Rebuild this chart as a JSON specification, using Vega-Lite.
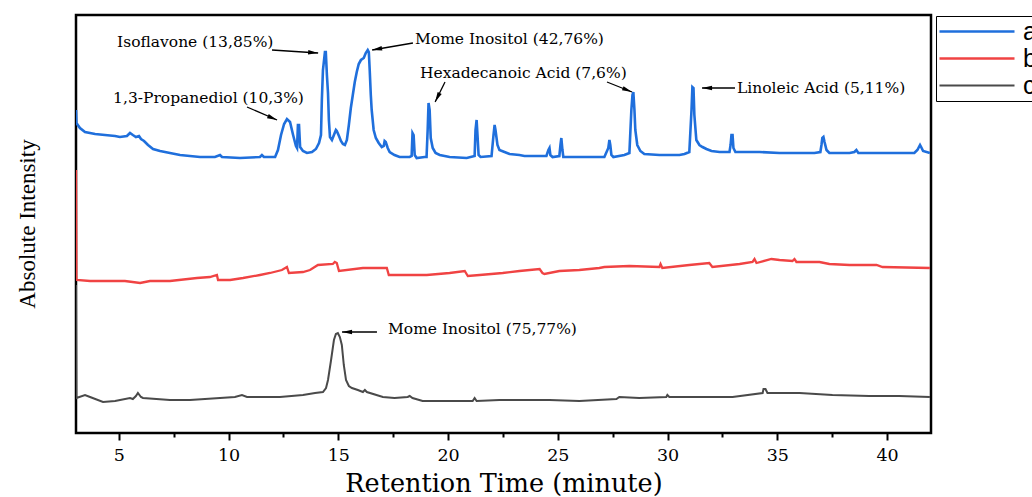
{
  "$schema": "https://vega.github.io/schema/vega-lite/v6.json",
  "width": 855,
  "height": 418,
  "autosize": {"type": "none"},
  "padding": {"left": 76, "top": 15, "right": 101, "bottom": 64},
  "background": "white",
  "title": {"text": "Absolute Intensity", "orient": "left", "anchor": "middle", "font": "Liberation Serif", "fontSize": 23, "fontWeight": "normal", "color": "black", "offset": 36},
  "config": {
    "view": {"stroke": "black", "strokeWidth": 2.5},
    "axis": {"grid": false}
  },
  "datasets": {
    "traces": [
      {"s":"a","t":3.05,"v":323},{"s":"a","t":3.07,"v":310},{"s":"a","t":3.23,"v":305},{"s":"a","t":3.46,"v":301},{"s":"a","t":3.92,"v":299},{"s":"a","t":4.37,"v":298},{"s":"a","t":4.83,"v":297},{"s":"a","t":5.05,"v":296},{"s":"a","t":5.37,"v":297},{"s":"a","t":5.51,"v":300},{"s":"a","t":5.64,"v":298},{"s":"a","t":5.78,"v":296},{"s":"a","t":5.92,"v":297},{"s":"a","t":6.01,"v":294},{"s":"a","t":6.15,"v":292},{"s":"a","t":6.33,"v":288},{"s":"a","t":6.56,"v":284},{"s":"a","t":6.88,"v":282},{"s":"a","t":7.33,"v":280},{"s":"a","t":7.79,"v":278},{"s":"a","t":8.24,"v":277},{"s":"a","t":8.70,"v":276},{"s":"a","t":9.38,"v":276},{"s":"a","t":9.61,"v":278},{"s":"a","t":9.70,"v":276},{"s":"a","t":10.52,"v":275},{"s":"a","t":11.43,"v":276},{"s":"a","t":11.52,"v":278},{"s":"a","t":11.61,"v":276},{"s":"a","t":12.12,"v":276},{"s":"a","t":12.25,"v":283},{"s":"a","t":12.39,"v":298},{"s":"a","t":12.53,"v":309},{"s":"a","t":12.66,"v":314},{"s":"a","t":12.80,"v":311},{"s":"a","t":12.94,"v":298},{"s":"a","t":13.07,"v":287},{"s":"a","t":13.12,"v":285},{"s":"a","t":13.16,"v":308},{"s":"a","t":13.21,"v":308},{"s":"a","t":13.26,"v":286},{"s":"a","t":13.39,"v":282},{"s":"a","t":13.57,"v":280},{"s":"a","t":13.80,"v":281},{"s":"a","t":13.98,"v":284},{"s":"a","t":14.12,"v":290},{"s":"a","t":14.21,"v":298},{"s":"a","t":14.25,"v":333},{"s":"a","t":14.30,"v":363},{"s":"a","t":14.39,"v":381},{"s":"a","t":14.43,"v":381},{"s":"a","t":14.48,"v":358},{"s":"a","t":14.53,"v":340},{"s":"a","t":14.57,"v":313},{"s":"a","t":14.62,"v":296},{"s":"a","t":14.71,"v":293},{"s":"a","t":14.80,"v":298},{"s":"a","t":14.89,"v":303},{"s":"a","t":14.93,"v":302},{"s":"a","t":15.03,"v":297},{"s":"a","t":15.12,"v":292},{"s":"a","t":15.21,"v":289},{"s":"a","t":15.30,"v":288},{"s":"a","t":15.39,"v":293},{"s":"a","t":15.48,"v":308},{"s":"a","t":15.57,"v":325},{"s":"a","t":15.66,"v":338},{"s":"a","t":15.75,"v":351},{"s":"a","t":15.84,"v":361},{"s":"a","t":15.93,"v":369},{"s":"a","t":16.03,"v":373},{"s":"a","t":16.16,"v":375},{"s":"a","t":16.25,"v":380},{"s":"a","t":16.34,"v":383},{"s":"a","t":16.39,"v":381},{"s":"a","t":16.43,"v":363},{"s":"a","t":16.48,"v":338},{"s":"a","t":16.52,"v":323},{"s":"a","t":16.61,"v":303},{"s":"a","t":16.71,"v":295},{"s":"a","t":16.84,"v":290},{"s":"a","t":16.98,"v":286},{"s":"a","t":17.07,"v":287},{"s":"a","t":17.11,"v":292},{"s":"a","t":17.16,"v":291},{"s":"a","t":17.25,"v":285},{"s":"a","t":17.34,"v":281},{"s":"a","t":17.56,"v":278},{"s":"a","t":17.79,"v":276},{"s":"a","t":18.25,"v":276},{"s":"a","t":18.34,"v":277},{"s":"a","t":18.38,"v":300},{"s":"a","t":18.43,"v":298},{"s":"a","t":18.48,"v":278},{"s":"a","t":18.57,"v":275},{"s":"a","t":18.93,"v":276},{"s":"a","t":19.02,"v":276},{"s":"a","t":19.07,"v":303},{"s":"a","t":19.11,"v":330},{"s":"a","t":19.16,"v":323},{"s":"a","t":19.21,"v":295},{"s":"a","t":19.30,"v":285},{"s":"a","t":19.43,"v":280},{"s":"a","t":19.62,"v":278},{"s":"a","t":20.07,"v":276},{"s":"a","t":20.85,"v":275},{"s":"a","t":21.21,"v":277},{"s":"a","t":21.25,"v":303},{"s":"a","t":21.30,"v":313},{"s":"a","t":21.34,"v":298},{"s":"a","t":21.39,"v":278},{"s":"a","t":21.48,"v":276},{"s":"a","t":21.98,"v":277},{"s":"a","t":22.07,"v":298},{"s":"a","t":22.12,"v":308},{"s":"a","t":22.16,"v":303},{"s":"a","t":22.25,"v":288},{"s":"a","t":22.34,"v":283},{"s":"a","t":22.57,"v":281},{"s":"a","t":22.80,"v":279},{"s":"a","t":23.25,"v":278},{"s":"a","t":23.48,"v":277},{"s":"a","t":23.94,"v":277},{"s":"a","t":24.48,"v":277},{"s":"a","t":24.57,"v":283},{"s":"a","t":24.62,"v":285},{"s":"a","t":24.66,"v":278},{"s":"a","t":24.76,"v":276},{"s":"a","t":25.07,"v":277},{"s":"a","t":25.12,"v":288},{"s":"a","t":25.16,"v":295},{"s":"a","t":25.21,"v":283},{"s":"a","t":25.25,"v":276},{"s":"a","t":25.75,"v":276},{"s":"a","t":26.44,"v":276},{"s":"a","t":27.12,"v":276},{"s":"a","t":27.30,"v":285},{"s":"a","t":27.35,"v":293},{"s":"a","t":27.39,"v":288},{"s":"a","t":27.44,"v":278},{"s":"a","t":27.53,"v":276},{"s":"a","t":28.03,"v":278},{"s":"a","t":28.26,"v":280},{"s":"a","t":28.35,"v":323},{"s":"a","t":28.40,"v":338},{"s":"a","t":28.44,"v":341},{"s":"a","t":28.49,"v":323},{"s":"a","t":28.53,"v":303},{"s":"a","t":28.62,"v":288},{"s":"a","t":28.76,"v":282},{"s":"a","t":28.94,"v":279},{"s":"a","t":29.63,"v":278},{"s":"a","t":30.54,"v":278},{"s":"a","t":30.77,"v":279},{"s":"a","t":30.99,"v":281},{"s":"a","t":31.09,"v":323},{"s":"a","t":31.13,"v":346},{"s":"a","t":31.18,"v":345},{"s":"a","t":31.22,"v":318},{"s":"a","t":31.31,"v":293},{"s":"a","t":31.45,"v":288},{"s":"a","t":31.59,"v":286},{"s":"a","t":31.77,"v":284},{"s":"a","t":32.00,"v":282},{"s":"a","t":32.37,"v":281},{"s":"a","t":32.82,"v":281},{"s":"a","t":32.87,"v":288},{"s":"a","t":32.91,"v":298},{"s":"a","t":32.96,"v":298},{"s":"a","t":33.00,"v":285},{"s":"a","t":33.09,"v":281},{"s":"a","t":34.19,"v":281},{"s":"a","t":35.10,"v":280},{"s":"a","t":36.01,"v":280},{"s":"a","t":36.69,"v":280},{"s":"a","t":36.96,"v":281},{"s":"a","t":37.01,"v":288},{"s":"a","t":37.05,"v":295},{"s":"a","t":37.10,"v":296},{"s":"a","t":37.15,"v":291},{"s":"a","t":37.24,"v":283},{"s":"a","t":37.37,"v":280},{"s":"a","t":38.29,"v":280},{"s":"a","t":38.51,"v":281},{"s":"a","t":38.60,"v":283},{"s":"a","t":38.69,"v":280},{"s":"a","t":39.64,"v":280},{"s":"a","t":40.55,"v":280},{"s":"a","t":41.24,"v":280},{"s":"a","t":41.38,"v":283},{"s":"a","t":41.45,"v":286},{"s":"a","t":41.50,"v":288},{"s":"a","t":41.55,"v":286},{"s":"a","t":41.64,"v":282},{"s":"a","t":41.95,"v":280},
      {"s":"b","t":3.05,"v":263},{"s":"b","t":3.07,"v":153},{"s":"b","t":3.69,"v":152},{"s":"b","t":5.28,"v":152},{"s":"b","t":5.97,"v":150},{"s":"b","t":6.42,"v":152},{"s":"b","t":7.33,"v":152},{"s":"b","t":8.56,"v":155},{"s":"b","t":9.15,"v":156},{"s":"b","t":9.47,"v":158},{"s":"b","t":9.52,"v":153},{"s":"b","t":10.07,"v":153},{"s":"b","t":10.66,"v":155},{"s":"b","t":11.43,"v":158},{"s":"b","t":11.89,"v":160},{"s":"b","t":12.43,"v":163},{"s":"b","t":12.66,"v":166},{"s":"b","t":12.75,"v":160},{"s":"b","t":13.39,"v":161},{"s":"b","t":13.71,"v":163},{"s":"b","t":14.07,"v":168},{"s":"b","t":14.75,"v":169},{"s":"b","t":14.84,"v":171},{"s":"b","t":14.93,"v":170},{"s":"b","t":15.03,"v":162},{"s":"b","t":16.12,"v":165},{"s":"b","t":17.21,"v":165},{"s":"b","t":17.30,"v":158},{"s":"b","t":19.03,"v":158},{"s":"b","t":20.07,"v":160},{"s":"b","t":20.76,"v":162},{"s":"b","t":20.90,"v":157},{"s":"b","t":21.44,"v":158},{"s":"b","t":22.49,"v":160},{"s":"b","t":23.25,"v":162},{"s":"b","t":24.17,"v":164},{"s":"b","t":24.30,"v":160},{"s":"b","t":24.39,"v":159},{"s":"b","t":25.07,"v":162},{"s":"b","t":25.98,"v":163},{"s":"b","t":26.89,"v":165},{"s":"b","t":27.12,"v":166},{"s":"b","t":28.26,"v":167},{"s":"b","t":29.63,"v":166},{"s":"b","t":29.68,"v":169},{"s":"b","t":29.76,"v":165},{"s":"b","t":30.99,"v":168},{"s":"b","t":31.90,"v":170},{"s":"b","t":32.04,"v":166},{"s":"b","t":33.28,"v":169},{"s":"b","t":33.87,"v":171},{"s":"b","t":33.96,"v":174},{"s":"b","t":34.05,"v":170},{"s":"b","t":34.73,"v":174},{"s":"b","t":35.10,"v":173},{"s":"b","t":35.69,"v":172},{"s":"b","t":35.78,"v":174},{"s":"b","t":35.87,"v":171},{"s":"b","t":36.92,"v":171},{"s":"b","t":37.37,"v":169},{"s":"b","t":38.29,"v":168},{"s":"b","t":39.52,"v":168},{"s":"b","t":39.79,"v":166},{"s":"b","t":41.95,"v":165},
      {"s":"c","t":3.05,"v":148},{"s":"c","t":3.07,"v":35},{"s":"c","t":3.46,"v":38},{"s":"c","t":3.69,"v":36},{"s":"c","t":4.28,"v":31},{"s":"c","t":4.83,"v":32},{"s":"c","t":5.51,"v":35},{"s":"c","t":5.64,"v":34},{"s":"c","t":5.78,"v":37},{"s":"c","t":5.87,"v":40},{"s":"c","t":6.01,"v":36},{"s":"c","t":6.10,"v":35},{"s":"c","t":7.33,"v":33},{"s":"c","t":8.24,"v":33},{"s":"c","t":9.61,"v":35},{"s":"c","t":10.29,"v":36},{"s":"c","t":10.61,"v":38},{"s":"c","t":10.84,"v":36},{"s":"c","t":12.34,"v":36},{"s":"c","t":13.39,"v":38},{"s":"c","t":13.94,"v":40},{"s":"c","t":14.30,"v":41},{"s":"c","t":14.44,"v":45},{"s":"c","t":14.53,"v":53},{"s":"c","t":14.67,"v":73},{"s":"c","t":14.80,"v":93},{"s":"c","t":14.89,"v":99},{"s":"c","t":14.98,"v":100},{"s":"c","t":15.07,"v":96},{"s":"c","t":15.16,"v":88},{"s":"c","t":15.25,"v":68},{"s":"c","t":15.35,"v":53},{"s":"c","t":15.48,"v":47},{"s":"c","t":15.62,"v":45},{"s":"c","t":15.89,"v":43},{"s":"c","t":16.12,"v":41},{"s":"c","t":16.21,"v":43},{"s":"c","t":16.30,"v":41},{"s":"c","t":17.03,"v":36},{"s":"c","t":17.56,"v":35},{"s":"c","t":18.16,"v":36},{"s":"c","t":18.25,"v":37},{"s":"c","t":18.38,"v":35},{"s":"c","t":18.84,"v":32},{"s":"c","t":20.07,"v":32},{"s":"c","t":21.12,"v":32},{"s":"c","t":21.21,"v":35},{"s":"c","t":21.30,"v":32},{"s":"c","t":22.34,"v":33},{"s":"c","t":24.62,"v":33},{"s":"c","t":25.98,"v":32},{"s":"c","t":27.67,"v":34},{"s":"c","t":27.80,"v":36},{"s":"c","t":28.71,"v":35},{"s":"c","t":29.94,"v":36},{"s":"c","t":29.99,"v":38},{"s":"c","t":30.08,"v":36},{"s":"c","t":31.45,"v":36},{"s":"c","t":32.96,"v":36},{"s":"c","t":34.33,"v":40},{"s":"c","t":34.37,"v":44},{"s":"c","t":34.46,"v":44},{"s":"c","t":34.55,"v":40},{"s":"c","t":36.01,"v":40},{"s":"c","t":37.51,"v":38},{"s":"c","t":39.19,"v":37},{"s":"c","t":40.55,"v":37},{"s":"c","t":41.95,"v":36}
    ],
    "arrows": [
      {"t":11.98,"v":383,"t2":14.08,"v2":380,"angle":94},
      {"t":10.84,"v":326,"t2":12.21,"v2":313,"angle":113},
      {"t":18.40,"v":390,"t2":16.54,"v2":383,"angle":260},
      {"t":19.86,"v":351,"t2":19.41,"v2":331,"angle":207},
      {"t":27.24,"v":351,"t2":28.38,"v2":341,"angle":112},
      {"t":33.07,"v":345,"t2":31.57,"v2":345,"angle":270},
      {"t":16.76,"v":101,"t2":15.17,"v2":101,"angle":270}
    ],
    "labels": [
      {"t":4.92,"v":391,"label":"Isoflavone (13,85%)"},
      {"t":4.74,"v":335,"label":"1,3-Propanediol (10,3%)"},
      {"t":18.49,"v":394,"label":"Mome Inositol (42,76%)"},
      {"t":18.72,"v":360,"label":"Hexadecanoic Acid (7,6%)"},
      {"t":33.16,"v":345,"label":"Linoleic Acid (5,11%)"},
      {"t":17.26,"v":104,"label":"Mome Inositol (75,77%)"}
    ]
  },
  "resolve": {"axis": {"x": "independent"}},
  "layer": [
    {
      "data": {"name": "traces"},
      "mark": {"type": "line", "clip": true},
      "encoding": {
        "x": {"field": "t", "type": "quantitative", "scale": {"domain": [3.05, 42], "nice": false, "zero": false},
          "axis": {"orient": "bottom", "values": [5,10,15,20,25,30,35,40], "format": "d", "domain": false, "ticks": true, "tickSize": 7, "tickWidth": 2, "tickColor": "black",
            "labelFont": "DejaVu Serif", "labelFontSize": 17.5, "labelColor": "black", "labelPadding": 6,
            "title": "Retention Time (minute)", "titleFont": "DejaVu Serif", "titleFontSize": 25.5, "titleFontWeight": "normal", "titleColor": "black", "titlePadding": 8}},
        "y": {"field": "v", "type": "quantitative", "scale": {"domain": [0, 418], "nice": false, "zero": false}, "axis": null},
        "color": {"field": "s", "type": "nominal", "scale": {"domain": ["a","b","c"], "range": ["#1f6fdc","#f04343","#4a4a4a"]},
          "legend": {"title": null, "orient": "none", "legendX": 860, "legendY": 1, "strokeColor": "black", "padding": 2, "symbolType": "stroke", "symbolSize": 5625, "symbolStrokeWidth": 2, "clipHeight": 27, "rowPadding": 0, "labelFont": "Liberation Sans", "labelFontSize": 25, "labelColor": "black", "labelOffset": 7}},
        "strokeWidth": {"field": "s", "type": "nominal", "scale": {"domain": ["a","b","c"], "range": [2.6, 2, 2]}, "legend": null}
      }
    },
    {
      "data": {"name": "arrows"},
      "mark": {"type": "rule", "color": "black", "strokeWidth": 1.3},
      "encoding": {
        "x": {"field": "t", "type": "quantitative",
          "axis": {"orient": "bottom", "values": [7.5,12.5,17.5,22.5,27.5,32.5,37.5], "labels": false, "domain": false, "ticks": true, "tickSize": 4, "tickWidth": 2, "tickColor": "black", "title": null}},
        "y": {"field": "v", "type": "quantitative", "axis": null},
        "x2": {"field": "t2"},
        "y2": {"field": "v2"}
      }
    },
    {
      "data": {"name": "arrows"},
      "mark": {"type": "point", "shape": "M0,0L0.9,4L-0.9,4Z", "filled": true, "color": "black", "opacity": 1, "size": 25},
      "encoding": {
        "x": {"field": "t2", "type": "quantitative", "axis": null},
        "y": {"field": "v2", "type": "quantitative", "axis": null},
        "angle": {"field": "angle", "type": "quantitative", "scale": null}
      }
    },
    {
      "data": {"name": "labels"},
      "mark": {"type": "text", "align": "left", "baseline": "middle", "font": "DejaVu Serif", "fontSize": 15.5, "color": "black"},
      "encoding": {
        "x": {"field": "t", "type": "quantitative", "axis": null},
        "y": {"field": "v", "type": "quantitative", "axis": null},
        "text": {"field": "label"}
      }
    }
  ]
}
